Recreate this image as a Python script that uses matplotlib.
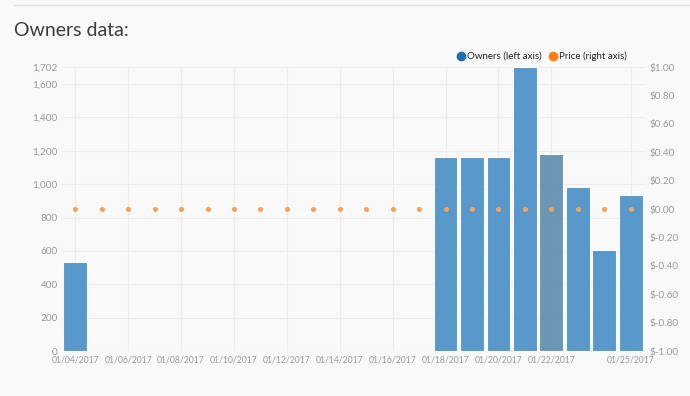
import numpy as np
import matplotlib.pyplot as plt

days = ["01/04/2017", "01/05/2017", "01/06/2017", "01/07/2017", "01/08/2017",
        "01/09/2017", "01/10/2017", "01/11/2017", "01/12/2017", "01/13/2017",
        "01/14/2017", "01/15/2017", "01/16/2017", "01/17/2017", "01/18/2017",
        "01/19/2017", "01/20/2017", "01/21/2017", "01/22/2017", "01/23/2017",
        "01/24/2017", "01/25/2017"]
owners = [535, 0, 0, 0, 0, 0, 0, 0, 0, 0, 0, 0, 0, 0,
          1162, 1162, 1162, 1702, 1180, 983, 605, 935]
price = [0.0] * len(days)
tick_days = ["01/04/2017", "01/06/2017", "01/08/2017", "01/10/2017", "01/12/2017",
             "01/14/2017", "01/16/2017", "01/18/2017", "01/20/2017", "01/22/2017",
             "01/25/2017"]
left_ticks = [0, 200, 400, 600, 800, 1000, 1200, 1400, 1600, 1702]
right_ticks = [-1.0, -0.8, -0.6, -0.4, -0.2, 0.0, 0.2, 0.4, 0.6, 0.8, 1.0]
highlight = "01/22/2017"

plt.rcParams['font.family'] = ['Lato', 'DejaVu Sans']
bg = "#f9f9f9"
tick_col = "#9a9a9a"

fig = plt.figure(figsize=(6.9, 3.96), dpi=100, facecolor=bg)
ax = fig.add_axes([0.0899, 0.1136, 0.8434, 0.7172], facecolor=bg)

x = np.arange(len(days))
colors = ["#5f8fb0" if d == highlight else "#4a90c6" for d in days]
ax.bar(x, owners, width=0.9, color=colors, alpha=0.92, edgecolor="white", lw=0.8, zorder=2)
ax.set_xlim(-0.5, len(days) - 0.5)
ax.set_ylim(0, max(owners))
ax.set_yticks(left_ticks)
ax.set_yticklabels([f"{v:,}" for v in left_ticks])
ax.set_xticks([days.index(d) for d in tick_days])
ax.set_xticklabels(tick_days, fontsize=6.2)
ax.grid(color="#ececec", lw=0.8, zorder=0)
ax.tick_params(length=0, labelsize=7.2, labelcolor=tick_col, pad=3)
ax.tick_params(axis="x", labelsize=6.2, pad=3)
for s in ax.spines.values():
    s.set_visible(False)

ax2 = ax.twinx()
ax2.scatter(x, price, s=7, color="#f5a35a", zorder=3)
ax2.set_ylim(-1, 1)
ax2.set_yticks(right_ticks)
ax2.set_yticklabels([f"${v:.2f}" if v >= 0 else f"$-{abs(v):.2f}" for v in right_ticks])
ax2.tick_params(length=0, labelsize=7.2, labelcolor=tick_col, pad=4)
for s in ax2.spines.values():
    s.set_visible(False)

# header
fig.add_artist(plt.Line2D([14 / 690, 1], [1 - 5 / 396] * 2, color="#e2e2e2", lw=1))
fig.text(14 / 690, 1 - 30 / 396, "Owners data:", fontsize=14, color="#3c3c3c",
         va="center")

# legend
ly = 1 - 56 / 396
fig.add_artist(plt.Line2D([461 / 690], [ly], marker="o", ms=6, color="#1f6fb4"))
fig.text(467 / 690, ly, "Owners (left axis)", fontsize=7, color="#222222", va="center")
fig.add_artist(plt.Line2D([553 / 690], [ly], marker="o", ms=6, color="#ff7f0e"))
fig.text(559 / 690, ly, "Price (right axis)", fontsize=7, color="#222222", va="center")

fig.savefig("out.png", dpi=100, facecolor=bg)
